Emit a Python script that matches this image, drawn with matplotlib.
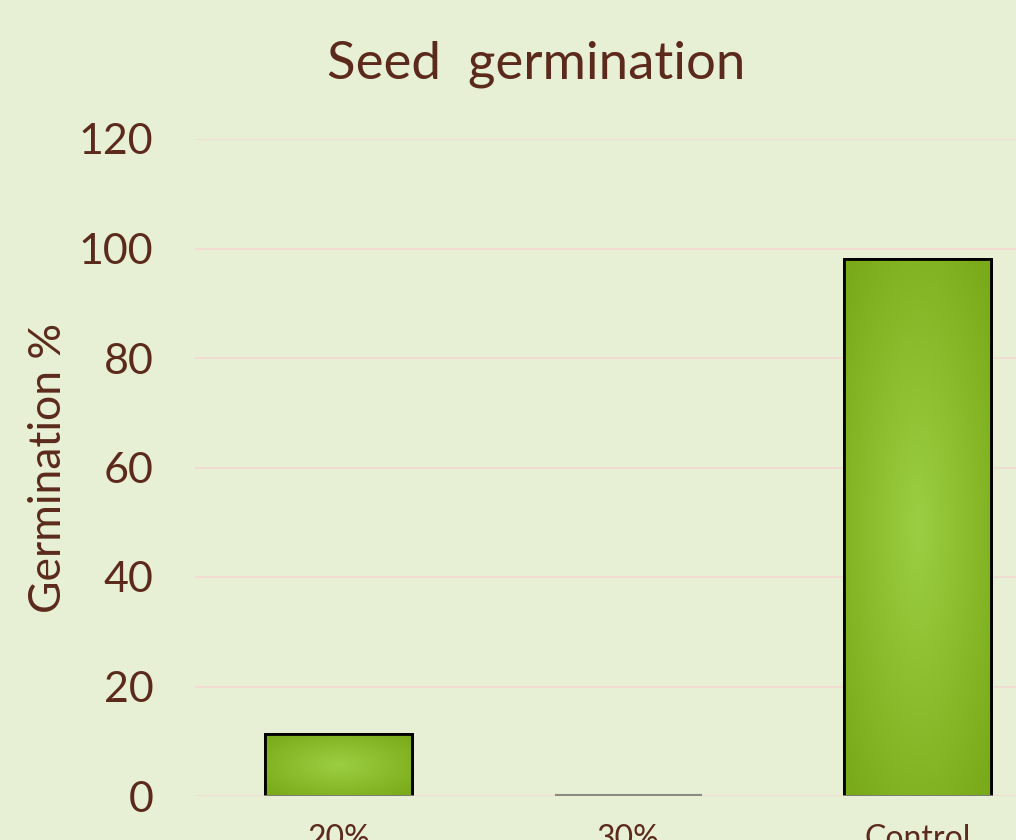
import matplotlib
matplotlib.use("Agg")
import matplotlib.pyplot as plt
import numpy as np

# data
categories = ["20%", "30%", "Control"]
germination = [11.3, 0, 98]

bg = "#e7f0d4"
brown = "#5b2a1c"

plt.rcParams["font.family"] = ["Lato", "DejaVu Sans"]

fig = plt.figure(figsize=(10.16, 8.4), dpi=100, facecolor=bg)
# axes placed in pixel terms: left 195, right 1016, y0 at 796, y120 at 139
ax = fig.add_axes([195 / 1016, (840 - 796) / 840, (1016 - 195) / 1016, (796 - 139) / 840])
ax.set_facecolor(bg)

x = np.arange(len(categories))
bars = ax.bar(x, germination, width=0.508, color="#8cbd2c", edgecolor="black",
              linewidth=2, zorder=3)

# radial gradient fill, lighter in the middle
yy, xx = np.mgrid[-1:1:200j, -1:1:200j]
r = np.clip(np.sqrt(xx ** 2 + yy ** 2) / 1.3, 0, 1)
light = np.array([0.61, 0.81, 0.26])
dark = np.array([0.48, 0.67, 0.10])
grad = light[None, None, :] * (1 - r[..., None]) + dark[None, None, :] * r[..., None]
for b, v in zip(bars, germination):
    if v <= 0:
        b.set_edgecolor("#8a8a80")
        b.set_linewidth(3)
        continue
    x0, w, h = b.get_x(), b.get_width(), b.get_height()
    im = ax.imshow(grad, extent=[x0, x0 + w, 0, h], aspect="auto", zorder=3.5,
                   interpolation="bilinear")
    im.set_clip_path(b)
    ax.bar(b.get_x() + w / 2, v, width=w, fill=False, edgecolor="black",
           linewidth=2, zorder=4)
    ax.plot([x0, x0 + w], [0, 0], color="#8a8a80", lw=2, zorder=4.5)

ax.set_xlim(-0.497, 2.339)
ax.set_ylim(0, 120)
ax.set_yticks(range(0, 121, 20))
ax.grid(axis="y", color="#f2d8d2", linewidth=1.2, zorder=0)
ax.set_axisbelow(True)
for s in ax.spines.values():
    s.set_visible(False)

ax.tick_params(axis="y", length=0, labelsize=31, labelcolor=brown, pad=30)
ax.set_xticks(x)
ax.set_xticklabels(categories)
ax.tick_params(axis="x", length=0, labelsize=23, labelcolor=brown, pad=20)

ax.set_ylabel("Germination %", fontsize=32, color=brown)
ax.yaxis.set_label_coords(-0.153, 0.50)
fig.text(0.528, 0.923, "Seed  germination", ha="center", va="center",
         fontsize=38, color=brown)

fig.savefig("out.png", dpi=100, facecolor=bg)
